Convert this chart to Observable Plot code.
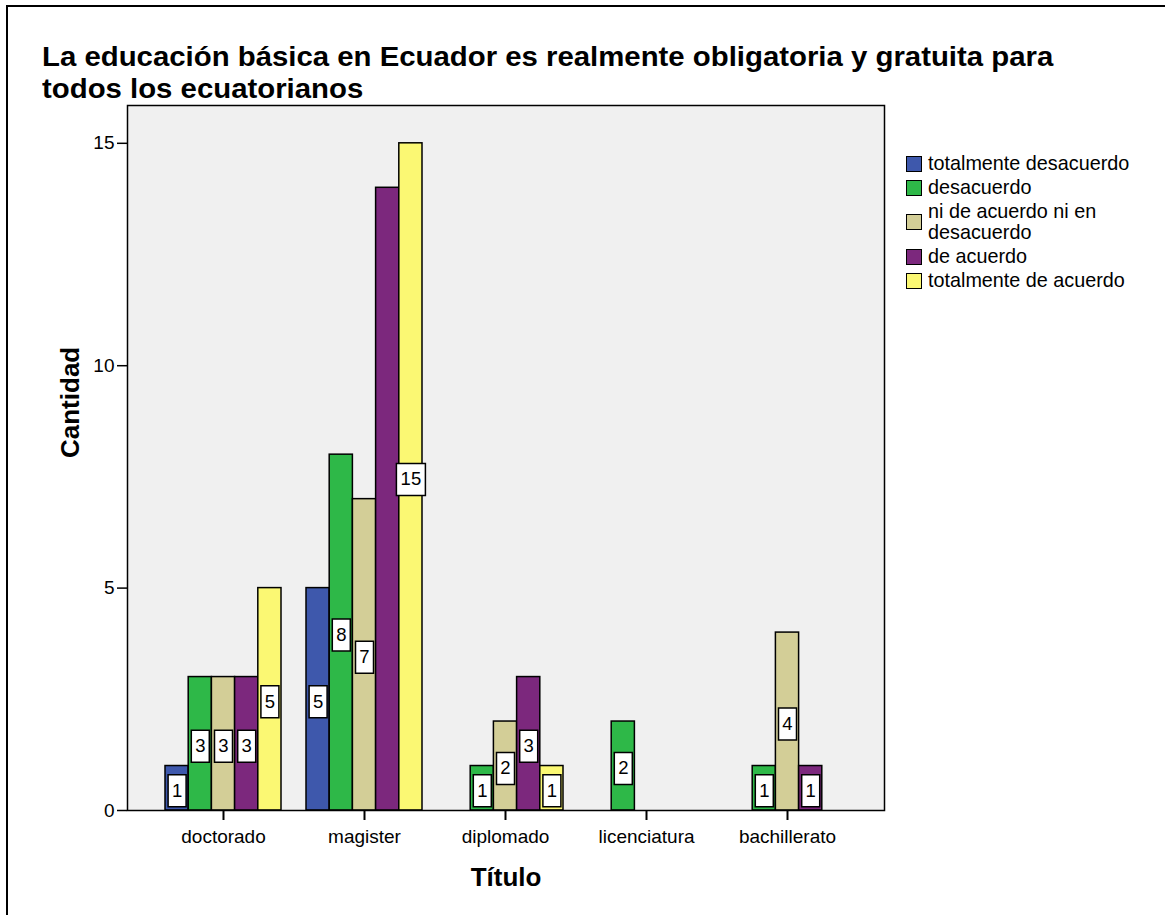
<!DOCTYPE html>
<html>
<head>
<meta charset="utf-8">
<script src="https://cdn.jsdelivr.net/npm/d3@7"></script>
<script src="https://cdn.jsdelivr.net/npm/@observablehq/plot@0.6"></script>
<style>
  html, body { margin: 0; padding: 0; background: #fff; overflow: hidden; }
  body { width: 1165px; height: 915px; position: relative; font-family: "Liberation Sans", Arial, sans-serif; }
  #chart { position: absolute; left: 0; top: 0; }
  #border { position: absolute; left: 6px; top: 5px; width: 2000px; height: 2000px; border-top: 2px solid #000; border-left: 2px solid #000; pointer-events: none; }
  #title { position: absolute; left: 42px; top: 41px; font-weight: bold; font-size: 27px; line-height: 32px; color: #000; white-space: nowrap; transform: scaleX(1.087); transform-origin: left top; }
  #legend { position: absolute; left: 906px; top: 153px; font-size: 19.8px; line-height: 21px; color: #000; }
  #legend .row { display: flex; align-items: center; margin-bottom: 3px; }
  #legend .sw { width: 14px; height: 14px; border: 1.5px solid #000; margin-right: 6px; flex: none; }
  #legend .lab { width: 222px; }
</style>
</head>
<body>
<div id="chart"></div>
<div id="title"></div>
<div id="legend"></div>
<div id="border"></div>
<script>
// ---- data ----
const titleLines = ["La educación básica en Ecuador es realmente obligatoria y gratuita para", "todos los ecuatorianos"];
const categories = ["doctorado", "magister", "diplomado", "licenciatura", "bachillerato"];
const seriesNames = ["totalmente desacuerdo", "desacuerdo", "ni de acuerdo ni en desacuerdo", "de acuerdo", "totalmente de acuerdo"];
const seriesColors = ["#3E58AC", "#2EB848", "#D3CE97", "#7C287D", "#FBF873"];
const totalmenteDesacuerdo = [1, 5, 0, 0, 0];
const desacuerdo = [3, 8, 1, 2, 1];
const niDeAcuerdoNiEnDesacuerdo = [3, 7, 2, 0, 4];
const deAcuerdo = [3, 14, 3, 0, 1];
const totalmenteDeAcuerdo = [5, 15, 1, 0, 0];
// value labels that the original chart does not show
const unlabeled = [["magister", "de acuerdo"]];
const yTicks = [0, 5, 10, 15];
const yLabel = "Cantidad";
const xLabel = "Título";

const seriesValues = [totalmenteDesacuerdo, desacuerdo, niDeAcuerdoNiEnDesacuerdo, deAcuerdo, totalmenteDeAcuerdo];

// ---- layout ----
const W = 1165, H = 915;
const mL = 127, mR = 281, mT = 105, mB = 105;
const padInner = 0.1773, padOuter = 0.273;
const innerW = W - mL - mR;
const step = innerW / (categories.length - padInner + 2 * padOuter);
const bandW = step * (1 - padInner);
const barW = bandW / seriesNames.length;

const rows = [];
seriesNames.forEach((s, i) => {
  categories.forEach((c, j) => {
    const v = seriesValues[i][j];
    if (v > 0) rows.push({cat: c, series: s, si: i, value: v,
      labeled: !unlabeled.some(([uc, us]) => uc === c && us === s)});
  });
});

function boxSymbol(w, h) {
  return {
    draw(ctx) {
      ctx.moveTo(-w / 2, -h / 2);
      ctx.lineTo(w / 2, -h / 2);
      ctx.lineTo(w / 2, h / 2);
      ctx.lineTo(-w / 2, h / 2);
      ctx.closePath();
    }
  };
}

const marks = [Plot.frame({fill: "#f0f0f0"})];
seriesNames.forEach((s, i) => {
  const d = rows.filter(r => r.si === i);
  marks.push(Plot.barY(d, {
    x: "cat", y: "value", fill: seriesColors[i], stroke: "#000", strokeWidth: 1.5,
    insetLeft: i * barW, insetRight: (seriesNames.length - 1 - i) * barW
  }));
});
seriesNames.forEach((s, i) => {
  const off = (i - (seriesNames.length - 1) / 2) * barW;
  const lab = rows.filter(r => r.si === i && r.labeled);
  const d1 = lab.filter(r => String(r.value).length === 1);
  const d2 = lab.filter(r => String(r.value).length === 2);
  const common = {x: "cat", y: d => d.value / 2, dx: off, dy: 2.5, r: 10, fill: "#fff", stroke: "#000", strokeWidth: 1.5};
  marks.push(Plot.dot(d1, {...common, symbol: boxSymbol(18, 32)}));
  marks.push(Plot.dot(d2, {...common, symbol: boxSymbol(29, 32)}));
  marks.push(Plot.text(lab, {x: "cat", y: d => d.value / 2, dx: off, dy: 2.5, text: d => String(d.value), fontSize: 18.5, fill: "#000"}));
});
marks.push(Plot.frame({stroke: "#000", strokeWidth: 1.5}));
marks.push(Plot.axisY({ticks: yTicks, tickSize: 10, tickPadding: 3, fontSize: 19, strokeWidth: 1.5, label: null}));
marks.push(Plot.axisX({tickSize: 10, tickPadding: 9, fontSize: 19, strokeWidth: 2, label: null}));
marks.push(Plot.text([yLabel], {text: d => d, frameAnchor: "left", dx: -57, rotate: -90, fontSize: 26, fontWeight: "bold", fill: "#000"}));
marks.push(Plot.text([xLabel], {text: d => d, frameAnchor: "bottom", dy: 75, fontSize: 26, fontWeight: "bold", fill: "#000"}));

const chart = Plot.plot({
  width: W, height: H,
  marginLeft: mL, marginRight: mR, marginTop: mT, marginBottom: mB,
  style: {background: "transparent", fontFamily: "'Liberation Sans', Arial, sans-serif", color: "#000"},
  x: {domain: categories, paddingInner: padInner, paddingOuter: padOuter, label: null},
  y: {domain: [0, 15.85], label: null},
  marks
});
document.getElementById("chart").appendChild(chart);

// title
document.getElementById("title").innerHTML = titleLines.map(t => t.replace(/&/g, "&amp;")).join("<br>");

// legend
const leg = document.getElementById("legend");
seriesNames.forEach((s, i) => {
  const row = document.createElement("div");
  row.className = "row";
  const sw = document.createElement("div");
  sw.className = "sw";
  sw.style.background = seriesColors[i];
  const lab = document.createElement("div");
  lab.className = "lab";
  lab.textContent = s;
  row.appendChild(sw);
  row.appendChild(lab);
  leg.appendChild(row);
});
</script>
</body>
</html>
